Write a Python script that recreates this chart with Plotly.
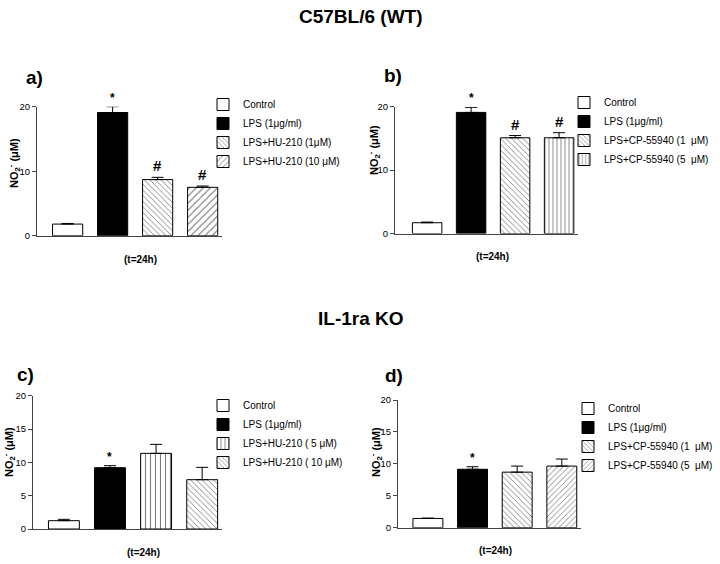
import plotly.graph_objects as go

W, H = 720, 564

# ---- data ----
wt_hu_labels = ["Control", "LPS (1μg/ml)", "LPS+HU-210 (1μM)", "LPS+HU-210 (10 μM)"]
wt_hu_means = [1.8, 19.1, 8.7, 7.5]
wt_hu_err = [0.1, 0.9, 0.35, 0.2]
wt_hu_marks = ["", "*", "#", "#"]

wt_cp_labels = ["Control", "LPS (1μg/ml)", "LPS+CP-55940 (1  μM)", "LPS+CP-55940 (5  μM)"]
wt_cp_means = [1.7, 19.1, 15.1, 15.1]
wt_cp_err = [0.1, 0.8, 0.35, 0.8]
wt_cp_marks = ["", "*", "#", "#"]

ko_hu_labels = ["Control", "LPS (1μg/ml)", "LPS+HU-210 ( 5 μM)", "LPS+HU-210 ( 10 μM)"]
ko_hu_means = [1.25, 9.2, 11.35, 7.4]
ko_hu_err = [0.2, 0.3, 1.35, 1.85]
ko_hu_marks = ["", "*", "", ""]

ko_cp_labels = ["Control", "LPS (1μg/ml)", "LPS+CP-55940 (1  μM)", "LPS+CP-55940 (5  μM)"]
ko_cp_means = [1.45, 9.15, 8.7, 9.65]
ko_cp_err = [0.05, 0.4, 0.95, 1.1]
ko_cp_marks = ["", "*", "", ""]

# fill styles per bar: (color, pattern shape, pattern size)
styles_a = [("white", "", 0), ("black", "", 0), ("white", "\\", 4), ("white", "/", 5)]
styles_b = [("white", "", 0), ("black", "", 0), ("white", "\\", 4), ("white", "|", 4)]
styles_c = [("white", "", 0), ("black", "", 0), ("white", "|", 5), ("white", "\\", 4)]
styles_d = [("white", "", 0), ("black", "", 0), ("white", "\\", 4), ("white", "/", 4)]

panels = [
    dict(labels=wt_hu_labels, means=wt_hu_means, err=wt_hu_err, marks=wt_hu_marks, styles=styles_a,
         px=(37, 222), py=(235.7, 106.7), xr=(-0.68, 3.43), dtick=10, leg=(203, 90),
         ylab=(14, 163), tlab=(140, 259)),
    dict(labels=wt_cp_labels, means=wt_cp_means, err=wt_cp_err, marks=wt_cp_marks, styles=styles_b,
         px=(395, 578), py=(233.5, 106.7), xr=(-0.73, 3.43), dtick=10, leg=(564, 88),
         ylab=(374, 150), tlab=(492, 256)),
    dict(labels=ko_hu_labels, means=ko_hu_means, err=ko_hu_err, marks=ko_hu_marks, styles=styles_c,
         px=(33, 222), py=(529, 395.7), xr=(-0.67, 3.43), dtick=5, leg=(203, 391),
         ylab=(9, 452), tlab=(143, 552)),
    dict(labels=ko_cp_labels, means=ko_cp_means, err=ko_cp_err, marks=ko_cp_marks, styles=styles_d,
         px=(398, 581), py=(527.7, 400), xr=(-0.67, 3.43), dtick=5, leg=(568, 394),
         ylab=(376, 452), tlab=(495, 550)),
]

fig = go.Figure()
layout = {}
annotations = []
FONT = "Liberation Sans, Arial, sans-serif"

def py2paper(y):
    return 1 - y / H

for i, p in enumerate(panels):
    n = i + 1
    xa = "x" if n == 1 else f"x{n}"
    ya = "y" if n == 1 else f"y{n}"
    leg = "legend" if n == 1 else f"legend{n}"
    for j, lab in enumerate(p["labels"]):
        col, shp, sz = p["styles"][j]
        fig.add_trace(go.Bar(
            x=[j], y=[p["means"][j]], name=lab, xaxis=xa, yaxis=ya, legend=leg,
            width=0.67, cliponaxis=False,
            marker=dict(color=col, line=dict(color="black", width=1),
                        pattern=dict(shape=shp, size=sz if sz else 8, solidity=0.22,
                                     fgcolor="black", bgcolor="white") if shp else None),
            error_y=dict(type="data", array=[p["err"][j]], arrayminus=[0], symmetric=False,
                         color="black", thickness=1, width=6),
            showlegend=True,
        ))
        if p["marks"][j]:
            annotations.append(dict(
                x=j, y=p["means"][j] + p["err"][j], xref=xa, yref=ya,
                text=f"<b>{p['marks'][j]}</b>", showarrow=False, yanchor="bottom",
                yshift=0 if p["marks"][j] == "*" else 1,
                font=dict(size=12 if p["marks"][j] == "*" else 15, family=FONT, color="black")))
    x0, x1 = p["px"]
    y0, y20 = p["py"]
    layout[f"xaxis{'' if n == 1 else n}"] = dict(
        domain=[x0 / W, x1 / W], range=list(p["xr"]), anchor=ya, showticklabels=False,
        ticks="", showgrid=False, zeroline=False, showline=True, linecolor="#444", linewidth=1,
        fixedrange=True)
    layout[f"yaxis{'' if n == 1 else n}"] = dict(
        domain=[py2paper(y0), py2paper(y20)], range=[0, 20], anchor=xa, dtick=p["dtick"],
        ticks="outside", ticklen=4, tickcolor="#444", showgrid=False, zeroline=False,
        showline=True, linecolor="#444", linewidth=1, tickfont=dict(size=9.5, family=FONT, color="black"),
        fixedrange=True)
    lx, ly = p["leg"]
    layout[leg] = dict(x=lx / W, y=py2paper(ly), xanchor="left", yanchor="top",
                       font=dict(size=10, family=FONT, color="black"), bgcolor="rgba(0,0,0,0)",
                       tracegroupgap=0, itemwidth=30, traceorder="normal")
    annotations.append(dict(
        x=p["ylab"][0] / W, y=py2paper(p["ylab"][1]), xref="paper", yref="paper",
        xanchor="center", yanchor="middle",
        text="<b>NO<sub>2</sub><sup>-</sup> (μM)</b>", textangle=-90, showarrow=False,
        font=dict(size=11, family=FONT, color="black")))
    annotations.append(dict(
        x=p["tlab"][0] / W, y=py2paper(p["tlab"][1]), xref="paper", yref="paper",
        xanchor="center", yanchor="middle",
        text="<b>(t=24h)</b>", showarrow=False, font=dict(size=10, family=FONT, color="black")))

for txt, x, y in [("a)", 34, 77), ("b)", 393, 75), ("c)", 26, 374), ("d)", 394, 375)]:
    annotations.append(dict(x=x / W, y=py2paper(y), xref="paper", yref="paper", text=f"<b>{txt}</b>",
                            xanchor="center", yanchor="middle",
                            showarrow=False, font=dict(size=19, family=FONT, color="black")))
for txt, y in [("C57BL/6 (WT)", 16), ("IL-1ra KO", 318)]:
    annotations.append(dict(x=361 / W, y=py2paper(y), xref="paper", yref="paper", text=f"<b>{txt}</b>",
                            xanchor="center", yanchor="middle",
                            showarrow=False, font=dict(size=19, family=FONT, color="black")))

fig.update_layout(
    width=W, height=H, margin=dict(l=0, r=0, t=0, b=0, autoexpand=False), paper_bgcolor="white",
    plot_bgcolor="white", barmode="overlay", annotations=annotations, **layout)

fig.write_html("out.html", config={"displayModeBar": False},
               post_script="document.body.style.margin='0';document.body.style.padding='0';")
